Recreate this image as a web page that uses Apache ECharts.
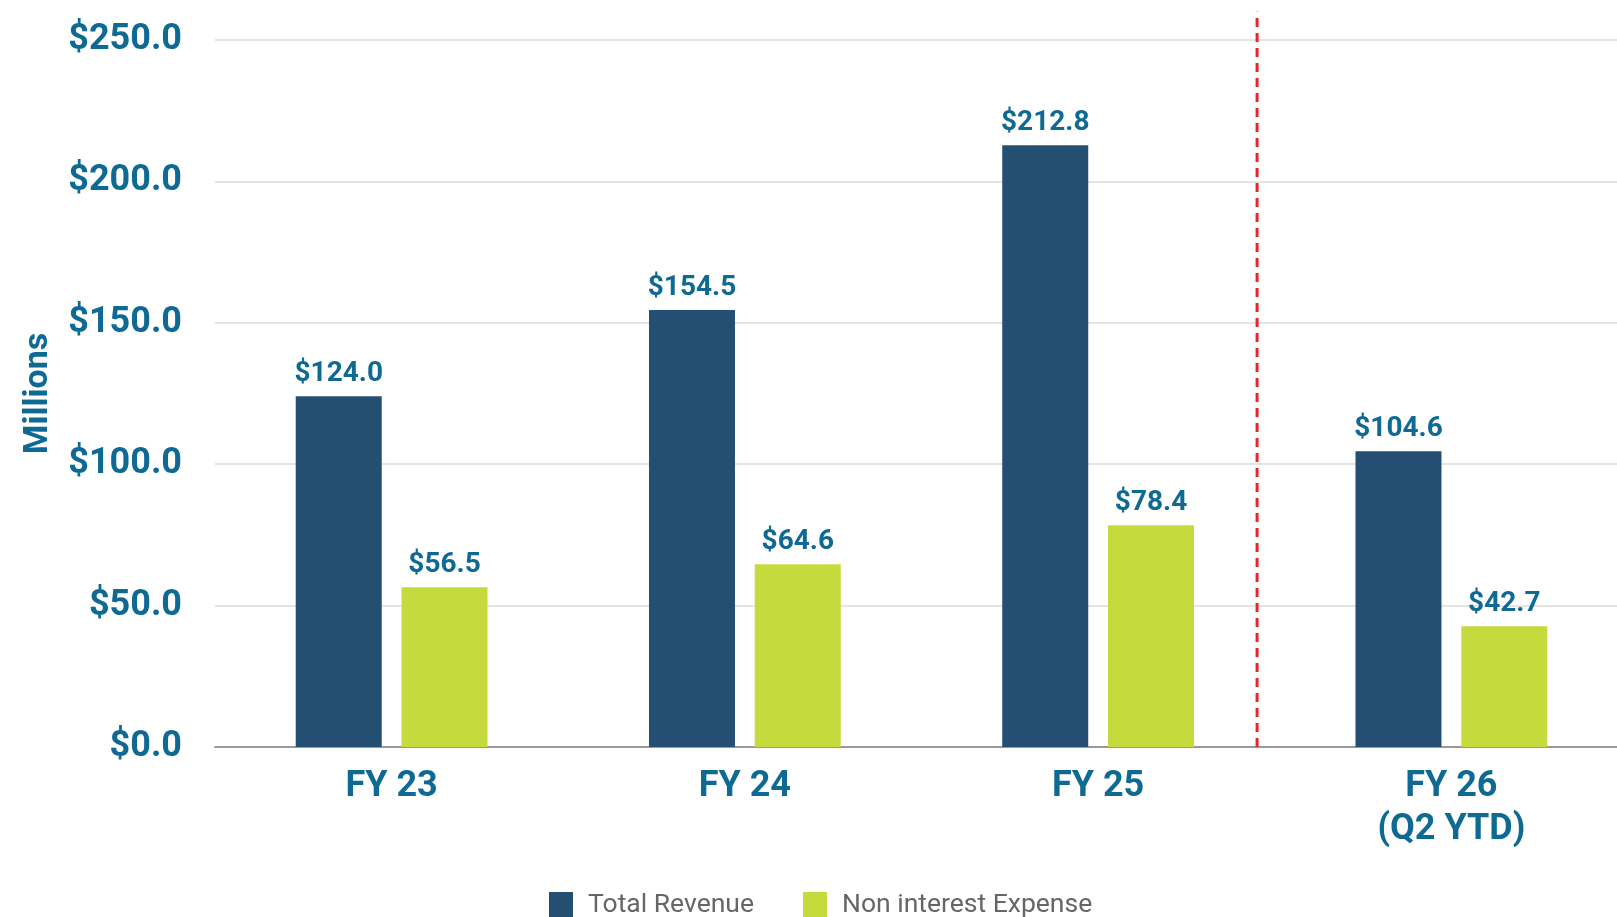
<!DOCTYPE html>
<html lang="en">
<head>
  <meta charset="UTF-8">
  <script src="https://cdn.jsdelivr.net/npm/echarts@6/dist/echarts.min.js"></script>
  <style>
    html, body { margin: 0; padding: 0; background: #fff; }
    #chart { width: 1617px; height: 917px; }
  </style>
</head>
<body>
  <div id="chart"></div>
  <script>
    const categories = ['FY 23', 'FY 24', 'FY 25', 'FY 26\n(Q2 YTD)'];
    const totalRevenue = [124.0, 154.5, 212.8, 104.6];
    const nonInterestExpense = [56.5, 64.6, 78.4, 42.7];
    const seriesNames = ['Total Revenue', 'Non interest Expense'];
    // position of the dashed divider, in category units (0..4), and its top value
    const dividerAt = 2.95;
    const dividerTop = 260;

    const blue = '#0E6A93';
    const money = v => '$' + Number(v).toFixed(1);

    const chart = echarts.init(document.getElementById('chart'));
    chart.setOption({
      animation: false,
      textStyle: { fontFamily: 'Roboto' },
      grid: { left: 215, top: 40, width: 1413, height: 707, outerBoundsMode: 'none', containLabel: false },
      legend: {
        data: seriesNames,
        left: 544,
        top: 887,
        itemWidth: 24,
        itemHeight: 27,
        itemGap: 49,
        icon: 'rect',
        textStyle: { fontSize: 26.5, color: '#666', padding: [0, 0, 0, 10] }
      },
      xAxis: [
        {
          type: 'category',
          data: categories,
          axisTick: { show: false },
          axisLine: { lineStyle: { color: '#999', width: 2 } },
          axisLabel: {
            color: blue,
            fontWeight: 'bold',
            fontSize: 36,
            lineHeight: 43,
            margin: 18,
            verticalAlign: 'top'
          }
        },
        { type: 'value', min: 0, max: 4, show: false }
      ],
      yAxis: {
        type: 'value',
        min: 0,
        max: 250,
        interval: 50,
        name: 'Millions',
        nameLocation: 'middle',
        nameRotate: 90,
        nameGap: 160,
        nameTextStyle: { color: blue, fontWeight: 'bold', fontSize: 34 },
        axisLine: { show: false },
        axisTick: { show: false },
        axisLabel: {
          color: blue,
          fontWeight: 'bold',
          fontSize: 36,
          margin: 33,
          padding: [6, 0, 0, 0],
          formatter: money
        },
        splitLine: { lineStyle: { color: '#e4e4e4', width: 2 } }
      },
      series: [
        {
          name: seriesNames[0],
          type: 'bar',
          data: totalRevenue,
          barWidth: 86,
          barGap: '23%',
          itemStyle: { color: '#244F73' },
          label: {
            show: true, position: 'top', distance: 8,
            color: blue, fontWeight: 'bold', fontSize: 28, formatter: p => money(p.value)
          }
        },
        {
          name: seriesNames[1],
          type: 'bar',
          data: nonInterestExpense,
          barWidth: 86,
          barGap: '23%',
          itemStyle: { color: '#C5DA3D' },
          label: {
            show: true, position: 'top', distance: 8,
            color: blue, fontWeight: 'bold', fontSize: 28, formatter: p => money(p.value)
          }
        },
        {
          name: 'divider',
          type: 'line',
          xAxisIndex: 1,
          clip: false,
          symbol: 'none',
          silent: true,
          data: [[dividerAt, 0], [dividerAt, dividerTop]],
          lineStyle: { color: '#E8262A', width: 3, type: [9, 6] }
        }
      ]
    });
  </script>
</body>
</html>
